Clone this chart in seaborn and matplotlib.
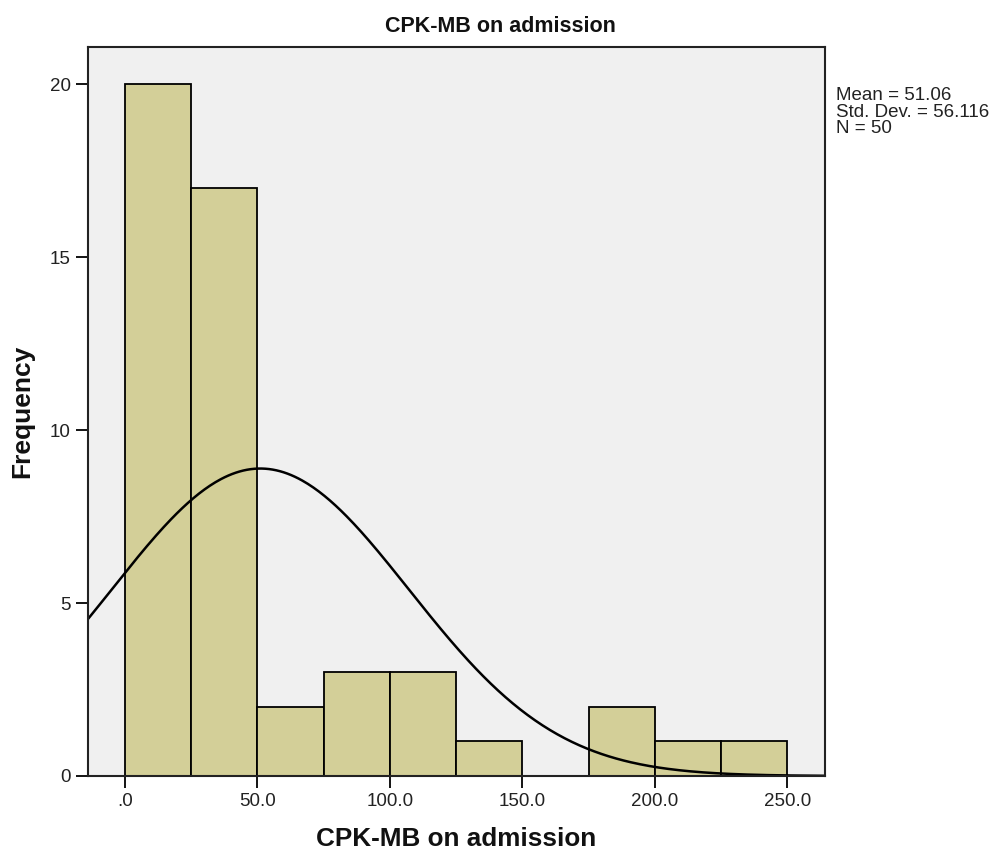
import numpy as np
import pandas as pd
import matplotlib
matplotlib.use("Agg")
import matplotlib.pyplot as plt
import seaborn as sns

# Data
bin_edges = [0, 25, 50, 75, 100, 125, 150, 175, 200, 225, 250]
counts = [20, 17, 2, 3, 3, 1, 0, 2, 1, 1]
mean_val = 51.06
sd_val = 56.116
n_val = 50
x_ticks = [0, 50, 100, 150, 200, 250]
x_tick_labels = [".0", "50.0", "100.0", "150.0", "200.0", "250.0"]
y_ticks = [0, 5, 10, 15, 20]

sns.set_theme(style="white")
plt.rcParams['font.family'] = ['Liberation Sans', 'DejaVu Sans']

fig = plt.figure(figsize=(10.01, 8.6), dpi=100)
ax = fig.add_axes([88/1001, 1 - 776/860, (825-88)/1001, (776-47)/860])
ax.set_facecolor("#F0F0F0")

centers = [(bin_edges[i] + bin_edges[i+1]) / 2 for i in range(len(counts))]
df = pd.DataFrame({"x": centers, "w": counts})
sns.histplot(data=df, x="x", weights="w", bins=bin_edges, ax=ax,
             color="#D3CF98", alpha=1.0, edgecolor="black", linewidth=1.3)

binw = bin_edges[1] - bin_edges[0]
xs = np.linspace(-14, 264.3, 400)
ys = n_val * binw * np.exp(-0.5 * ((xs - mean_val) / sd_val) ** 2) / (sd_val * np.sqrt(2 * np.pi))
sns.lineplot(x=xs, y=ys, ax=ax, color="black", linewidth=1.8)

ax.set_xlim(-14, 264.3)
ax.set_ylim(0, 21.07)
ax.set_xticks(x_ticks)
ax.set_xticklabels(x_tick_labels)
ax.set_yticks(y_ticks)
ax.tick_params(axis="both", direction="out", length=8.5, width=1.3, color="black",
               labelsize=13.5, labelcolor="#222222", pad=4, bottom=True, left=True)
for s in ax.spines.values():
    s.set_color("#222222")
    s.set_linewidth(1.5)

ax.set_xlabel("CPK-MB on admission", fontsize=18.8, fontweight="bold", labelpad=12, color="#111111")
ax.set_ylabel("Frequency", fontsize=19, fontweight="bold", labelpad=11, color="#111111")

fig.text(0.5, 1 - 26/860, "CPK-MB on admission", ha="center", va="center",
         fontsize=15.5, fontweight="bold", color="#111111")
fig.text(836/1001, 1 - 87/860, "Mean = 51.06\nStd. Dev. = 56.116\nN = 50", ha="left", va="top",
         fontsize=13.5, color="#222222", linespacing=0.98)

fig.savefig("out.png", dpi=100)
